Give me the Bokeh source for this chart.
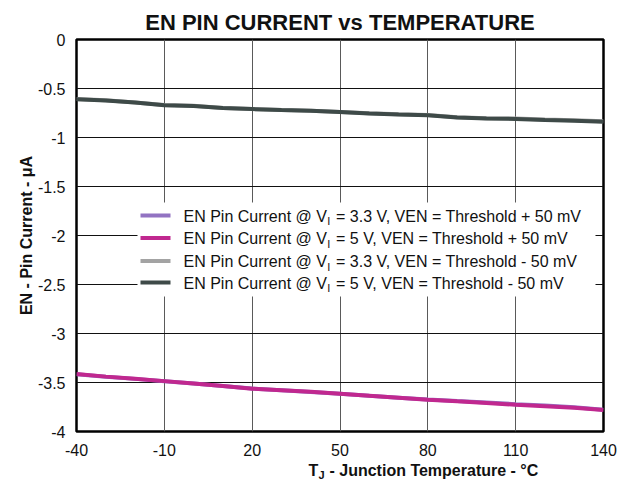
from bokeh.plotting import figure
from bokeh.layouts import column
from bokeh.models import Label, BoxAnnotation, FixedTicker, Range1d
from bokeh.embed import file_html
from bokeh.resources import INLINE

# ---- data ----
temperature = [-40, -30, -20, -10, 0, 10, 20, 30, 40, 50, 60, 70, 80, 90, 100, 110, 120, 130, 140]

i_3v3_plus = [-3.415, -3.441, -3.463, -3.487, -3.511, -3.536, -3.562, -3.578, -3.596, -3.616,
              -3.636, -3.655, -3.674, -3.690, -3.704, -3.721, -3.735, -3.752, -3.778]
i_5v_plus = [-3.413, -3.440, -3.462, -3.486, -3.510, -3.535, -3.563, -3.578, -3.595, -3.615,
             -3.635, -3.655, -3.675, -3.692, -3.708, -3.727, -3.742, -3.758, -3.780]
i_3v3_minus = [-0.608, -0.621, -0.642, -0.669, -0.677, -0.698, -0.709, -0.719, -0.726, -0.739,
               -0.753, -0.764, -0.771, -0.794, -0.804, -0.806, -0.816, -0.824, -0.833]
i_5v_minus = [-0.610, -0.622, -0.643, -0.671, -0.678, -0.700, -0.710, -0.720, -0.727, -0.741,
              -0.755, -0.766, -0.773, -0.797, -0.806, -0.810, -0.822, -0.830, -0.840]

series = [i_3v3_plus, i_5v_plus, i_3v3_minus, i_5v_minus]
series_colors = ["#9273C2", "#C0288F", "#A3A3A3", "#3E4A48"]
legend_prefix = ["EN Pin Current @ V"] * 4
legend_sub = ["I"] * 4
legend_suffix = ["= 3.3 V, VEN = Threshold + 50 mV",
                 "= 5 V, VEN = Threshold + 50 mV",
                 "= 3.3 V, VEN = Threshold - 50 mV",
                 "= 5 V, VEN = Threshold - 50 mV"]

x_ticks = [-40, -10, 20, 50, 80, 110, 140]
x_tick_labels = ["-40", "-10", "20", "50", "80", "110", "140"]
y_ticks = [0, -0.5, -1, -1.5, -2, -2.5, -3, -3.5, -4]
y_tick_labels = ["0", "-0.5", "-1", "-1.5", "-2", "-2.5", "-3", "-3.5", "-4"]

title_text = "EN PIN CURRENT vs TEMPERATURE"
y_label = "EN - Pin Current - \u03bcA"
x_label_main = "T"
x_label_sub = "J"
x_label_rest = "- Junction Temperature - \u00b0C"

FONT = "Liberation Sans"
TXT = "#111111"

p = figure(width=629, height=458, output_backend="svg", toolbar_location=None,
           x_range=Range1d(-40, 140), y_range=Range1d(-4, 0),
           min_border_left=76, min_border_right=26, min_border_top=39, min_border_bottom=26)
p.background_fill_color = "white"
p.border_fill_color = "white"
p.outline_line_color = "black"
p.outline_line_width = 2.5

# title
p.title.text = title_text
p.title.align = "center"
p.title.offset = 2
p.title.standoff = 10
p.title.text_font = FONT
p.title.text_font_size = "22px"
p.title.text_font_style = "bold"
p.title.text_color = TXT

# grid
p.xaxis.ticker = FixedTicker(ticks=x_ticks)
p.yaxis.ticker = FixedTicker(ticks=y_ticks)
p.xgrid.grid_line_color = "#5a5a5a"
p.xgrid.grid_line_width = 1
p.ygrid.grid_line_color = "#111111"
p.ygrid.grid_line_width = 1

# axes
for ax in (p.xaxis, p.yaxis):
    ax.axis_line_color = None
    ax.major_tick_line_color = None
    ax.minor_tick_line_color = None
    ax.major_label_text_font = FONT
    ax.major_label_text_font_size = "16px"
    ax.major_label_text_color = TXT
p.xaxis.major_label_standoff = 6
p.yaxis.major_label_standoff = 5
p.xaxis.major_label_overrides = {t: s for t, s in zip(x_ticks, x_tick_labels)}
p.yaxis.major_label_overrides = {t: s for t, s in zip(y_ticks, y_tick_labels)}
p.yaxis.axis_label = y_label
p.yaxis.axis_label_text_font = FONT
p.yaxis.axis_label_text_font_style = "bold"
p.yaxis.axis_label_text_font_size = "16px"
p.yaxis.axis_label_standoff = 0
p.yaxis.axis_label_text_color = TXT

# data lines
for ys, c in zip(series, series_colors):
    p.line(temperature, ys, line_color=c, line_width=4)

# legend (manual, to allow subscripts); screen units relative to frame bottom-left
p.add_layout(BoxAnnotation(left=61, right=519, bottom=135, top=229,
                           left_units="screen", right_units="screen",
                           bottom_units="screen", top_units="screen",
                           fill_color="white", fill_alpha=1.0, line_color=None))
row_y = [216, 193.5, 170.5, 149]
for ry, c, pre, sub, suf in zip(row_y, series_colors, legend_prefix, legend_sub, legend_suffix):
    p.add_layout(BoxAnnotation(left=64, right=94, bottom=ry - 2, top=ry + 2,
                               left_units="screen", right_units="screen",
                               bottom_units="screen", top_units="screen",
                               fill_color=c, fill_alpha=1.0, line_color=None))
    ty = ry - 0.5
    p.add_layout(Label(x=107, y=ty, x_units="screen", y_units="screen", text=pre,
                       text_font=FONT, text_font_size="16px", text_baseline="middle",
                       text_color=TXT))
    p.add_layout(Label(x=250.8, y=ty - 5, x_units="screen", y_units="screen", text=sub,
                       text_font=FONT, text_font_size="11px", text_baseline="middle",
                       text_color=TXT))
    p.add_layout(Label(x=259.5, y=ty, x_units="screen", y_units="screen", text=suf,
                       text_font=FONT, text_font_size="16px", text_baseline="middle",
                       text_color=TXT))

# x axis label (with subscript) drawn in a thin strip below the chart
q = figure(width=629, height=31, output_backend="svg", toolbar_location=None,
           x_range=Range1d(0, 1), y_range=Range1d(0, 1),
           x_axis_type=None, y_axis_type=None, min_border=0)
q.outline_line_color = None
q.background_fill_color = "white"
q.border_fill_color = "white"
q.add_layout(Label(x=232, y=19, x_units="screen", y_units="screen", text=x_label_main,
                   text_font=FONT, text_font_size="16px", text_font_style="bold",
                   text_baseline="alphabetic", text_color=TXT))
q.add_layout(Label(x=242, y=15, x_units="screen", y_units="screen", text=x_label_sub,
                   text_font=FONT, text_font_size="11px", text_font_style="bold",
                   text_baseline="alphabetic", text_color=TXT))
q.add_layout(Label(x=253, y=19, x_units="screen", y_units="screen", text=x_label_rest,
                   text_font=FONT, text_font_size="16px", text_font_style="bold",
                   text_baseline="alphabetic", text_color=TXT))

layout = column(p, q, spacing=0)
open("out.html", "w").write(file_html(layout, INLINE))
